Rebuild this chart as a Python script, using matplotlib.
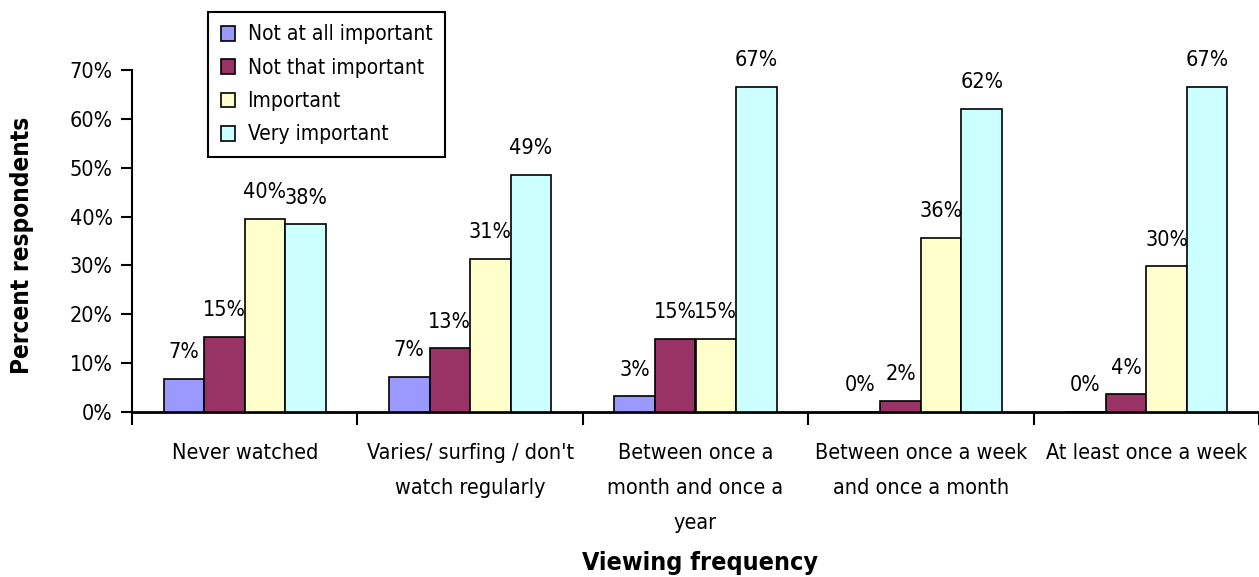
import matplotlib.pyplot as plt
import numpy as np

categories = ["Never watched",
              "Varies/ surfing / don't\nwatch regularly",
              "Between once a\nmonth and once a\nyear",
              "Between once a week\nand once a month",
              "At least once a week"]
series_names = ["Not at all important", "Not that important", "Important", "Very important"]
not_at_all = [6.8, 7.2, 3.2, 0.0, 0.0]
not_that = [15.4, 13.0, 15.0, 2.3, 3.6]
important = [39.6, 31.4, 15.0, 35.6, 29.8]
very_important = [38.4, 48.6, 66.6, 62.1, 66.6]
colors = ["#9999FF", "#993366", "#FFFFCC", "#CCFFFF"]

plt.rcParams['font.family'] = ['DejaVu Sans']
plt.rcParams['font.stretch'] = 'condensed'

def main():
    fig = plt.figure(figsize=(12.59, 5.77), dpi=100)
    ax = fig.add_axes([132 / 1259, 1 - 412 / 577, 1 - 132 / 1259, (412 - 70) / 577])

    x = np.arange(len(categories))
    w = 0.18
    all_series = [not_at_all, not_that, important, very_important]
    for k, (vals, name, col) in enumerate(zip(all_series, series_names, colors)):
        pos = x + (k - 1.5) * w
        bars = ax.bar(pos, vals, width=w, color=col, edgecolor='black', linewidth=1.2,
                      label=name, zorder=3)
        for b, v in zip(bars, vals):
            ax.annotate(f"{v:.0f}%", (b.get_x() + b.get_width() / 2, v),
                        xytext=(0, 12), textcoords='offset points',
                        ha='center', va='bottom', fontsize=15.5)

    ax.set_ylim(0, 70)
    ax.set_xlim(-0.5, 4.465)
    ax.set_yticks(np.arange(0, 71, 10))
    ax.set_yticklabels([f"{t}%" for t in range(0, 71, 10)], fontsize=15.5)
    ax.set_xticks(np.arange(-0.5, 5, 1.0))
    ax.set_xticklabels([])
    ax.set_xticks(x, minor=True)
    ax.set_xticklabels(categories, minor=True, fontsize=15.5, linespacing=1.95, va='top')
    ax.tick_params(axis='x', which='minor', length=0, pad=22)
    ax.tick_params(axis='x', which='major', length=9, width=1.5, direction='out')
    ax.tick_params(axis='y', length=8, width=1.5, direction='out', pad=6)

    for s in ['top', 'right']:
        ax.spines[s].set_visible(False)
    ax.spines['left'].set_linewidth(1.5)
    ax.spines['bottom'].set_linewidth(2)

    fig.text(22 / 1259, 1 - 245 / 577, "Percent respondents", rotation=90, ha='center', va='center',
             fontsize=17.5, fontweight='bold', stretch='condensed')
    fig.text(700 / 1259, 1 - 563 / 577, "Viewing frequency", ha='center', va='center',
             fontsize=18, fontweight='bold', stretch='condensed')

    leg = fig.legend(loc='upper left', bbox_to_anchor=(208 / 1259, 1 - 12 / 577),
                     fancybox=False, framealpha=1, edgecolor='black', fontsize=15,
                     handlelength=0.7, handleheight=0.7, handletextpad=0.6,
                     labelspacing=0.64, borderpad=0.6, borderaxespad=0)
    leg.get_frame().set_linewidth(1.5)

    fig.savefig("out.png", dpi=100)

if __name__ == "__main__":
    main()
